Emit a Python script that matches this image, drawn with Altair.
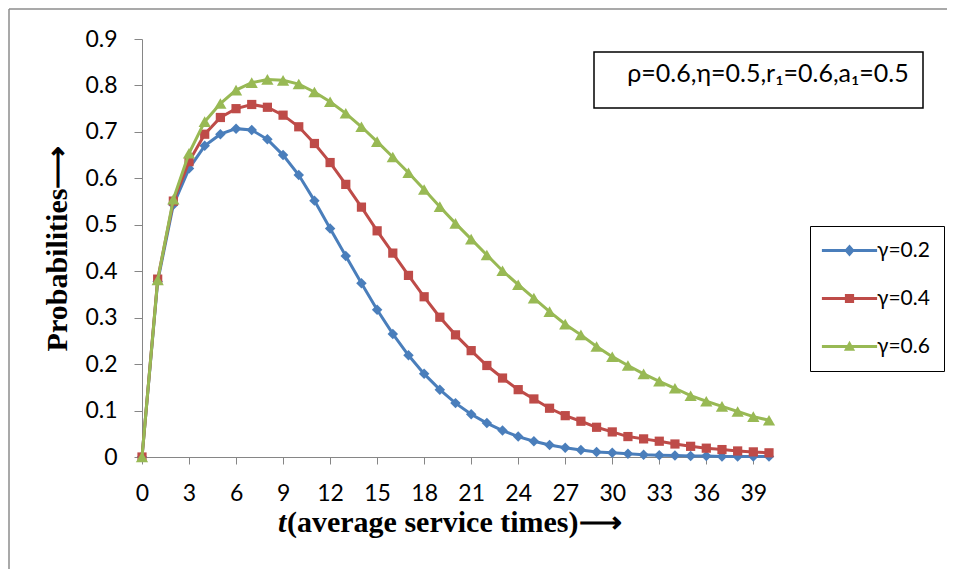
import altair as alt
import pandas as pd

# ---- data ----
t_values = list(range(0, 41))
series_names = ["γ=0.2", "γ=0.4", "γ=0.6"]
gamma_02 = [0, 0.378, 0.543, 0.621, 0.670, 0.695, 0.707, 0.704, 0.684, 0.650,
            0.607, 0.552, 0.492, 0.433, 0.374, 0.317, 0.265, 0.219, 0.179, 0.145,
            0.116, 0.092, 0.073, 0.057, 0.044, 0.034, 0.026, 0.020, 0.015, 0.011,
            0.009, 0.007, 0.005, 0.004, 0.003, 0.002, 0.002, 0.001, 0.001, 0.001,
            0.001]
gamma_04 = [0, 0.383, 0.551, 0.636, 0.695, 0.731, 0.750, 0.759, 0.753, 0.736,
            0.711, 0.675, 0.634, 0.587, 0.538, 0.487, 0.439, 0.391, 0.345, 0.301,
            0.263, 0.229, 0.197, 0.170, 0.145, 0.125, 0.105, 0.089, 0.077, 0.064,
            0.054, 0.044, 0.039, 0.034, 0.028, 0.023, 0.019, 0.016, 0.013, 0.011,
            0.009]
gamma_06 = [0, 0.381, 0.555, 0.654, 0.722, 0.761, 0.790, 0.806, 0.813, 0.811,
            0.803, 0.786, 0.765, 0.740, 0.711, 0.679, 0.646, 0.612, 0.576, 0.539,
            0.503, 0.469, 0.435, 0.401, 0.371, 0.342, 0.313, 0.286, 0.263, 0.238,
            0.216, 0.197, 0.179, 0.163, 0.148, 0.132, 0.120, 0.109, 0.098, 0.087,
            0.079]
x_ticks = list(range(0, 40, 3))
y_ticks = [0, 0.1, 0.2, 0.3, 0.4, 0.5, 0.6, 0.7, 0.8, 0.9]
annotation_text = "ρ=0.6,η=0.5,r₁=0.6,a₁=0.5"
y_title = "Probabilities⟶"
x_title_italic = "t"
x_title_rest = "(average service times)⟶"

colors = ["#4A7EBB", "#BE4B48", "#98B954"]
shapes = ["diamond", "square", "triangle-up"]
sizes = [110, 85, 150]

rows = []
for name, vals in zip(series_names, [gamma_02, gamma_04, gamma_06]):
    for t, v in zip(t_values, vals):
        rows.append({"t": t, "p": v, "series": name})
df = pd.DataFrame(rows)

W, H = 627, 418

x_enc = alt.X("t:Q", scale=alt.Scale(domain=[0, 40], nice=False),
              axis=alt.Axis(values=x_ticks, title=None, tickSize=7, labelPadding=18,
                            labelFlush=False))
y_enc = alt.Y("p:Q", scale=alt.Scale(domain=[0, 0.9], nice=False),
              axis=alt.Axis(values=y_ticks, title=y_title, format=".1~f", tickSize=8,
                            labelPadding=17, titleFont="Liberation Serif",
                            titleFontWeight="bold", titleFontSize=30, titleAngle=270,
                            titleX=-85, titleY=209, titleAlign="center",
                            titleBaseline="middle", titleColor="black"))

base = alt.Chart(df)
layers = []
for name, col, shp, sz in zip(series_names, colors, shapes, sizes):
    sub = base.transform_filter(alt.datum.series == name)
    layers.append(sub.mark_line(strokeWidth=3, color=col).encode(x=x_enc, y=y_enc))
    layers.append(sub.mark_point(shape=shp, filled=True, size=sz, opacity=1, color=col)
                  .encode(x=x_enc, y=y_enc))

# legend symbols: line segment with marker
legend_paths = [
    "M-6.9,-0.375H6.9V0.375H-6.9Z M0,-1.5L1.3,0L0,1.5L-1.3,0Z",
    "M-6.9,-0.375H6.9V0.375H-6.9Z M-1.15,-1.15H1.15V1.15H-1.15Z",
    "M-6.9,-0.375H6.9V0.375H-6.9Z M0,-1.45L1.4,1.05L-1.4,1.05Z",
]
legend_df = pd.DataFrame({"series": series_names})
legend_props = dict(orient="none", legendX=668, legendY=187, title=None,
                    strokeColor="black", fillColor="white",
                    padding=14, symbolSize=64, symbolOffset=15, labelOffset=17,
                    labelFont="Lato", labelFontSize=21, labelColor="black",
                    rowPadding=26, symbolStrokeWidth=0)
legend_layer = alt.Chart(legend_df).mark_point(filled=True, opacity=1).encode(
    x=alt.value(-600), y=alt.value(-600),
    color=alt.Color("series:N", scale=alt.Scale(domain=series_names, range=colors),
                    legend=alt.Legend(**legend_props)),
    shape=alt.Shape("series:N", scale=alt.Scale(domain=series_names, range=legend_paths),
                    legend=alt.Legend(**legend_props)),
)

one = alt.Data(values=[{"k": 1}])
frame_left = alt.Chart(one).mark_rule(stroke="#8C8C8C", strokeWidth=1.5).encode(
    x=alt.value(-133), y=alt.value(-30), y2=alt.value(560))
frame_top = alt.Chart(one).mark_rule(stroke="#8C8C8C", strokeWidth=1.5).encode(
    x=alt.value(-133), x2=alt.value(820), y=alt.value(-30))
box = alt.Chart(one).mark_rect(fill="white", stroke="black", strokeWidth=1.5).encode(
    x=alt.value(452), x2=alt.value(781), y=alt.value(13), y2=alt.value(69))
box_text = alt.Chart(one).mark_text(font="Lato", fontSize=25, align="center",
                                    baseline="alphabetic", color="black").encode(
    x=alt.value(626), y=alt.value(43), text=alt.value(annotation_text))
xt1 = alt.Chart(one).mark_text(font="Liberation Serif", fontSize=30, fontWeight="bold",
                               fontStyle="italic", align="left", baseline="alphabetic",
                               color="black").encode(
    x=alt.value(136), y=alt.value(75 + H), text=alt.value(x_title_italic))
xt2 = alt.Chart(one).mark_text(font="Liberation Serif", fontSize=30, fontWeight="bold",
                               align="left", baseline="alphabetic", color="black").encode(
    x=alt.value(145), y=alt.value(75 + H), text=alt.value(x_title_rest))

chart = alt.layer(frame_left, frame_top, box, box_text, xt1, xt2, *layers,
                  legend_layer).properties(
    width=W, height=H,
    autosize=alt.AutoSizeParams(type="none"),
    padding={"left": 134, "top": 31, "right": 178, "bottom": 112},
    background="white",
).configure_axis(
    grid=False, domainColor="#868686", tickColor="#868686", domainWidth=1, tickWidth=1,
    labelFont="Lato", labelFontSize=23, labelColor="black",
).configure_view(strokeWidth=0)

chart.save("out.html", embed_options={"renderer": "svg", "actions": False})
